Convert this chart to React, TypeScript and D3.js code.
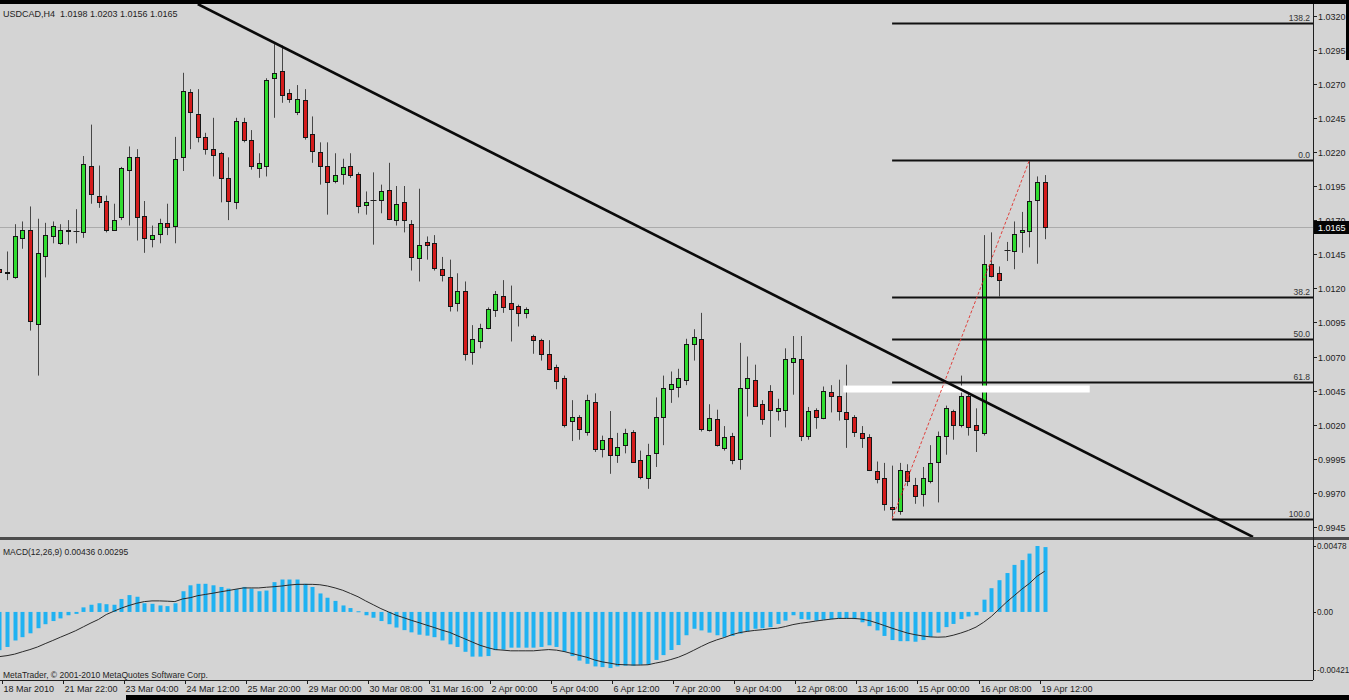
import { useEffect, useRef } from 'react'
import * as d3 from 'd3'

const symbol = 'USDCAD,H4'

// H4 candles, oldest first: [open, high, low, close]
const bars: [number, number, number, number][] = [
  [1.0134, 1.0139, 1.0111, 1.0132],
  [1.0132, 1.0147, 1.0126, 1.0131],
  [1.0128, 1.0167, 1.0127, 1.0158],
  [1.0157, 1.0169, 1.0149, 1.0163],
  [1.0163, 1.018, 1.0089, 1.0096],
  [1.0094, 1.0171, 1.0056, 1.0146],
  [1.0144, 1.0168, 1.0128, 1.0159],
  [1.0158, 1.0169, 1.0153, 1.0166],
  [1.0153, 1.0167, 1.0152, 1.0163],
  [1.0163, 1.017, 1.0152, 1.0162],
  [1.0162, 1.0178, 1.0153, 1.0162],
  [1.0161, 1.0217, 1.0157, 1.0211],
  [1.021, 1.024, 1.0182, 1.0189],
  [1.0188, 1.021, 1.0179, 1.0183],
  [1.0184, 1.0188, 1.0161, 1.0163],
  [1.0163, 1.0182, 1.0162, 1.017],
  [1.0172, 1.0209, 1.017, 1.0208],
  [1.0207, 1.0224, 1.0166, 1.0216],
  [1.0216, 1.0222, 1.0155, 1.0172],
  [1.0173, 1.0184, 1.0146, 1.0157],
  [1.0156, 1.0166, 1.015, 1.0159],
  [1.016, 1.0171, 1.0153, 1.0168],
  [1.0168, 1.0182, 1.0159, 1.0165],
  [1.0166, 1.0231, 1.0153, 1.0215],
  [1.0216, 1.0278, 1.0206, 1.0265],
  [1.0264, 1.0266, 1.0222, 1.0249],
  [1.0248, 1.0266, 1.0227, 1.0231],
  [1.0231, 1.0234, 1.0218, 1.0222],
  [1.0222, 1.0245, 1.0202, 1.0218],
  [1.0219, 1.022, 1.0183, 1.0201],
  [1.0201, 1.0216, 1.017, 1.0184],
  [1.0183, 1.0245, 1.0178, 1.0243],
  [1.0242, 1.0245, 1.0227, 1.0229],
  [1.0229, 1.0236, 1.0207, 1.021],
  [1.0208, 1.0219, 1.0201, 1.0212],
  [1.021, 1.0274, 1.0202, 1.0273],
  [1.0274, 1.0299, 1.0245, 1.0278],
  [1.0279, 1.0298, 1.0256, 1.0262],
  [1.0263, 1.0266, 1.0256, 1.0259],
  [1.0249, 1.0269, 1.0247, 1.0259],
  [1.0258, 1.0266, 1.0229, 1.0231],
  [1.0233, 1.0246, 1.0212, 1.0221],
  [1.022, 1.0227, 1.0196, 1.021],
  [1.021, 1.0227, 1.0174, 1.0198],
  [1.0199, 1.0219, 1.0197, 1.0203],
  [1.0204, 1.0215, 1.0196, 1.0209],
  [1.021, 1.0219, 1.0201, 1.0203],
  [1.0204, 1.0205, 1.0175, 1.018],
  [1.0181, 1.0191, 1.0174, 1.0183],
  [1.0185, 1.0205, 1.0152, 1.0185],
  [1.0185, 1.0196, 1.0175, 1.0191],
  [1.0192, 1.0212, 1.017, 1.0171],
  [1.017, 1.0195, 1.0166, 1.0182],
  [1.0183, 1.0195, 1.0161, 1.017],
  [1.0167, 1.017, 1.0133, 1.0143],
  [1.0142, 1.0193, 1.0125, 1.0152],
  [1.0154, 1.0158, 1.0141, 1.0152],
  [1.0153, 1.0159, 1.0133, 1.0135],
  [1.0134, 1.0143, 1.0125, 1.013],
  [1.0128, 1.0141, 1.0103, 1.0107],
  [1.0109, 1.0131, 1.0103, 1.0118],
  [1.0118, 1.0125, 1.0067, 1.0072],
  [1.0073, 1.0093, 1.0064, 1.0083],
  [1.0081, 1.0094, 1.0076, 1.0091],
  [1.0091, 1.0106, 1.009, 1.0105],
  [1.0104, 1.0118, 1.0099, 1.0116],
  [1.0114, 1.0126, 1.0102, 1.0106],
  [1.0109, 1.0122, 1.0081, 1.0105],
  [1.0107, 1.0108, 1.0092, 1.0102],
  [1.0102, 1.0106, 1.0098, 1.0105],
  [1.0085, 1.0086, 1.0072, 1.0082],
  [1.0082, 1.0083, 1.0067, 1.0072],
  [1.0072, 1.0082, 1.006, 1.0061],
  [1.0062, 1.0064, 1.0046, 1.0052],
  [1.0054, 1.0056, 1.0018, 1.002],
  [1.0023, 1.0038, 1.0008, 1.0026],
  [1.0026, 1.0027, 1.0009, 1.0017],
  [1.0015, 1.0042, 1.0012, 1.0038],
  [1.0037, 1.0043, 1.0, 1.0002],
  [1.0002, 1.0012, 0.9996, 1.0009],
  [1.001, 1.003, 0.9984, 0.9998],
  [0.9998, 1.0014, 0.9992, 1.0004],
  [1.0005, 1.0017, 0.9999, 1.0014],
  [1.0015, 1.0016, 0.9992, 0.9993],
  [0.9994, 1.0001, 0.998, 0.9982],
  [0.9981, 1.0006, 0.9973, 0.9998],
  [0.9999, 1.004, 0.9989, 1.0026],
  [1.0026, 1.0056, 1.0005, 1.0047],
  [1.0046, 1.0059, 1.0036, 1.005],
  [1.0048, 1.0061, 1.004, 1.0054],
  [1.0053, 1.0083, 1.0049, 1.0079],
  [1.0079, 1.009, 1.0067, 1.0084],
  [1.0083, 1.0102, 1.0015, 1.0017],
  [1.0016, 1.0035, 1.0015, 1.0025],
  [1.0024, 1.0031, 1.0004, 1.0005],
  [1.0003, 1.0019, 1.0001, 1.0011],
  [1.0012, 1.0014, 0.9991, 0.9994],
  [0.9995, 1.008, 0.9987, 1.0047],
  [1.0047, 1.007, 1.0026, 1.0054],
  [1.0053, 1.0064, 1.0033, 1.0034],
  [1.0035, 1.0038, 1.002, 1.0024],
  [1.0045, 1.0049, 1.0011, 1.0031],
  [1.003, 1.0039, 1.0023, 1.0032],
  [1.0031, 1.0076, 1.0018, 1.0068],
  [1.0066, 1.0085, 1.0042, 1.0069],
  [1.0068, 1.0085, 1.0008, 1.0012],
  [1.0012, 1.0033, 1.0009, 1.003],
  [1.0031, 1.0032, 1.0017, 1.0026],
  [1.0025, 1.0048, 1.0024, 1.0045],
  [1.0044, 1.0049, 1.0029, 1.0041],
  [1.0041, 1.0053, 1.0023, 1.003],
  [1.0029, 1.0064, 1.0003, 1.0024],
  [1.0026, 1.0027, 1.0011, 1.0015],
  [1.0014, 1.0019, 1.0003, 1.001],
  [1.0011, 1.0013, 0.9986, 0.9987],
  [0.9986, 0.9993, 0.9977, 0.998],
  [0.9981, 0.9992, 0.9957, 0.9962],
  [0.996, 0.999, 0.9951, 0.9958],
  [0.9957, 0.9992, 0.9954, 0.9987],
  [0.9986, 0.9991, 0.9975, 0.9979],
  [0.9976, 0.9981, 0.9962, 0.9968],
  [0.9969, 0.9989, 0.996, 0.9981],
  [0.9979, 1.0005, 0.9977, 0.9992],
  [0.9993, 1.0015, 0.9963, 1.0012],
  [1.0012, 1.0034, 0.9998, 1.0032],
  [1.003, 1.0031, 1.0009, 1.002],
  [1.002, 1.0056, 1.0018, 1.0041],
  [1.0041, 1.0046, 1.0012, 1.0018],
  [1.002, 1.0032, 1.0, 1.0016],
  [1.0014, 1.0159, 1.0012, 1.0138],
  [1.0138, 1.0161, 1.0128, 1.0129],
  [1.0131, 1.0136, 1.0114, 1.0126],
  [1.0148, 1.0154, 1.014, 1.0148],
  [1.0147, 1.0169, 1.0134, 1.016],
  [1.0161, 1.0176, 1.0146, 1.0163],
  [1.0162, 1.0214, 1.015, 1.0184],
  [1.0185, 1.0202, 1.0138, 1.0198],
  [1.0198, 1.0203, 1.0156, 1.0165],
]

// MACD(12,26,9): main histogram and signal line, one value per bar
const macdMain = [
  -0.00277, -0.00254, -0.00207, -0.00183, -0.00155, -0.00118, -0.00089, -0.00066, -0.00047, -0.00024,
  -0.00014, 0.00033, 0.00052, 0.00063, 0.00056, 0.00052, 0.00094, 0.00122, 0.0011, 0.00063,
  0.00059, 0.00047, 0.00042, 0.00063, 0.0015, 0.00193, 0.00204, 0.00204, 0.00193, 0.00181,
  0.00169, 0.00165, 0.00181, 0.00169, 0.0015, 0.00155, 0.00216, 0.00235, 0.00235, 0.00235,
  0.00204, 0.00181, 0.00134, 0.00103, 0.0008, 0.00047, 0.00028, 0.00005, -0.00024, -0.00042,
  -0.00066, -0.00089, -0.00113, -0.00132, -0.00148, -0.00165, -0.00172, -0.00183, -0.00207, -0.00235,
  -0.00254, -0.00289, -0.00324, -0.00324, -0.0032, -0.00277, -0.00273, -0.00259, -0.00259, -0.00259,
  -0.00259, -0.00254, -0.00242, -0.00254, -0.00289, -0.0032, -0.00353, -0.00376, -0.00395, -0.004,
  -0.00407, -0.00395, -0.0039, -0.0039, -0.00383, -0.00383, -0.00348, -0.00313, -0.00276, -0.0024,
  -0.00169, -0.00122, -0.00134, -0.0015, -0.00169, -0.00181, -0.00174, -0.00157, -0.00141, -0.00122,
  -0.00118, -0.0011, -0.00087, -0.00063, -0.00024, -0.00052, -0.00056, -0.00063, -0.00056, -0.00052,
  -0.00047, -0.00047, -0.00052, -0.00075, -0.00103, -0.00134, -0.00174, -0.00204, -0.00212, -0.00212,
  -0.00216, -0.00204, -0.00181, -0.0015, -0.0011, -0.00087, -0.00052, -0.00033, -0.00024, 0.00089,
  0.00172, 0.0023, 0.00282, 0.00341, 0.00376, 0.00423, 0.00478, 0.0047,
]

const macdSignal = [
  -0.00324, -0.00317, -0.00306, -0.00289, -0.00273, -0.00254, -0.0023, -0.00207, -0.00183, -0.0016,
  -0.00136, -0.00108, -0.0008, -0.00054, -0.00019, 0.00005, 0.00028, 0.00047, 0.00063, 0.00075,
  0.0008, 0.0008, 0.00078, 0.00075, 0.00094, 0.00103, 0.00118, 0.00127, 0.00136, 0.00146,
  0.00155, 0.00165, 0.00174, 0.00174, 0.00174, 0.00179, 0.00183, 0.00188, 0.00195, 0.002,
  0.002, 0.002, 0.00197, 0.00188, 0.00174, 0.00157, 0.00134, 0.0011, 0.0008, 0.00052,
  0.00024, 0, -0.00024, -0.00042, -0.00061, -0.00078, -0.00096, -0.00113, -0.00132, -0.00148,
  -0.00172, -0.00195, -0.00219, -0.00242, -0.00259, -0.00273, -0.00277, -0.00282, -0.00282, -0.00282,
  -0.00282, -0.00277, -0.00273, -0.00277, -0.00287, -0.00301, -0.00315, -0.00329, -0.00348, -0.00362,
  -0.00371, -0.00381, -0.00383, -0.00385, -0.00385, -0.00383, -0.00371, -0.0036, -0.00345, -0.00328,
  -0.00305, -0.00278, -0.0025, -0.00224, -0.00203, -0.00186, -0.00165, -0.0015, -0.00141, -0.00134,
  -0.00129, -0.00122, -0.00118, -0.00106, -0.00092, -0.00082, -0.00075, -0.00066, -0.00059, -0.00052,
  -0.00047, -0.00047, -0.00047, -0.00052, -0.00063, -0.0008, -0.00099, -0.00118, -0.00136, -0.00153,
  -0.00165, -0.00174, -0.00181, -0.00183, -0.00181, -0.00169, -0.00153, -0.00134, -0.0011, -0.00075,
  -0.00033, 0.00019, 0.00071, 0.00118, 0.00165, 0.00207, 0.00259, 0.00295,
]
const macdTitle = 'MACD(12,26,9) 0.00436 0.00295'

// one time label every 8 bars
const timeLabels = [
  '18 Mar 2010', '21 Mar 22:00', '23 Mar 04:00', '24 Mar 12:00', '25 Mar 20:00', '29 Mar 00:00',
  '30 Mar 08:00', '31 Mar 16:00', '2 Apr 00:00', '5 Apr 04:00', '6 Apr 12:00', '7 Apr 20:00',
  '9 Apr 04:00', '12 Apr 08:00', '13 Apr 16:00', '15 Apr 00:00', '16 Apr 08:00', '19 Apr 12:00',
]
const barsPerLabel = 8

const priceTicks = [
  1.032, 1.0295, 1.027, 1.0245, 1.022, 1.0195, 1.017, 1.0145, 1.012, 1.0095, 1.007, 1.0045, 1.002,
  0.9995, 0.997, 0.9945,
]
const macdTicks = [
  { value: 0.00478, label: '0.00478' },
  { value: 0, label: '0.00' },
  { value: -0.00421, label: '-0.00421' },
]

// objects drawn on the chart
const trendLine = [
  { bar: 26, price: 1.03284 },
  { bar: 164.3, price: 0.99377 },
]
const fibLowBar = 117
const fibHighBar = 135
const fibLevels = [
  { ratio: -0.382, label: '138.2' },
  { ratio: 0, label: '0.0' },
  { ratio: 0.382, label: '38.2' },
  { ratio: 0.5, label: '50.0' },
  { ratio: 0.618, label: '61.8' },
  { ratio: 1, label: '100.0' },
]
const zone = { fromBar: 110.6, toBar: 142.9, top: 1.00487, bottom: 1.00436 }

export default function App() {
  const svgRef = useRef<SVGSVGElement>(null)

  useEffect(() => {
    if (!svgRef.current) return
    const svg = d3.select(svgRef.current)
    svg.selectAll('*').remove()

    const width = 1349
    const height = 700
    const axisX = 1313
    const mainTop = 4
    const mainBottom = 537
    const subTop = 541
    const subBottom = 680
    const font = '"Liberation Sans", Arial, sans-serif'
    const ink = '#1e1e1e'

    svg.attr('width', width).attr('height', height)
    svg.append('rect').attr('width', width).attr('height', height).attr('fill', '#d4d4d4')

    // Scales
    const x = d3.scaleLinear().domain([0, bars.length - 1]).range([-0.6, 1044.7])
    const y = d3.scaleLinear().domain([0.9945, 1.032]).range([527, 15.5])
    const ym = d3.scaleLinear().domain([-0.00421, 0.00478]).range([670, 546])
    const px = (i: number) => Math.round(x(i)) + 0.5

    const defs = svg.append('defs')
    defs.append('clipPath').attr('id', 'clip-main').append('rect')
      .attr('x', 0).attr('y', mainTop).attr('width', axisX).attr('height', mainBottom - mainTop)
    defs.append('clipPath').attr('id', 'clip-sub').append('rect')
      .attr('x', 0).attr('y', subTop).attr('width', axisX).attr('height', subBottom - subTop)

    const main = svg.append('g').attr('clip-path', 'url(#clip-main)')
    const last = bars[bars.length - 1]

    // bid line
    main.append('line')
      .attr('x1', 0).attr('x2', axisX)
      .attr('y1', Math.round(y(last[3])) + 0.5).attr('y2', Math.round(y(last[3])) + 0.5)
      .attr('stroke', '#ababab')

    // Candles
    const candle = main.selectAll('g.candle').data(bars).join('g').attr('class', 'candle')
    candle.append('line')
      .attr('x1', (_, i) => px(i)).attr('x2', (_, i) => px(i))
      .attr('y1', (d) => y(d[1])).attr('y2', (d) => y(d[2]))
      .attr('stroke', '#474747')
    candle.each(function (d, i) {
      const g = d3.select(this)
      const [o, , , c] = d
      if (Math.abs(o - c) < 0.00005) {
        g.append('line')
          .attr('x1', px(i) - 3).attr('x2', px(i) + 3)
          .attr('y1', Math.round(y(o)) + 0.5).attr('y2', Math.round(y(o)) + 0.5)
          .attr('stroke', '#222')
        return
      }
      const top = Math.round(y(Math.max(o, c)))
      const bottom = Math.round(y(Math.min(o, c)))
      g.append('rect')
        .attr('x', px(i) - 2).attr('y', top + 0.5)
        .attr('width', 4).attr('height', Math.max(bottom - top, 1))
        .attr('fill', c > o ? '#30dc30' : '#d41c1c')
        .attr('stroke', '#161616')
    })

    // White zone
    main.append('rect')
      .attr('x', x(zone.fromBar)).attr('y', y(zone.top))
      .attr('width', x(zone.toBar) - x(zone.fromBar)).attr('height', y(zone.bottom) - y(zone.top))
      .attr('fill', '#ffffff')

    // Fibonacci retracement
    const fibLow = bars[fibLowBar][2]
    const fibHigh = bars[fibHighBar][1]
    const fibX = x(fibLowBar)
    fibLevels.forEach((lv) => {
      const yy = Math.round(y(fibHigh - lv.ratio * (fibHigh - fibLow))) + 0.5
      main.append('line')
        .attr('x1', fibX).attr('x2', axisX).attr('y1', yy).attr('y2', yy)
        .attr('stroke', '#111').attr('stroke-width', 2)
      svg.append('text')
        .attr('x', axisX - 3).attr('y', yy - 3)
        .attr('text-anchor', 'end').attr('font-family', font).attr('font-size', 8.5)
        .attr('fill', '#333').text(lv.label)
    })
    main.append('line')
      .attr('x1', x(fibLowBar)).attr('y1', y(fibLow))
      .attr('x2', x(fibHighBar)).attr('y2', y(fibHigh))
      .attr('stroke', '#e0403c').attr('stroke-dasharray', '3,2').attr('stroke-width', 1)

    // Trend line
    main.append('line')
      .attr('x1', x(trendLine[0].bar)).attr('y1', y(trendLine[0].price))
      .attr('x2', x(trendLine[1].bar)).attr('y2', y(trendLine[1].price))
      .attr('stroke', '#0a0a0a').attr('stroke-width', 2.6)

    // Header
    svg.append('text')
      .attr('x', 3).attr('y', 17)
      .attr('font-family', font).attr('font-size', 9).attr('fill', ink)
      .style('white-space', 'pre')
      .text(`${symbol}  ${last.map((v) => v.toFixed(4)).join(' ')}`)

    // Panel separator
    svg.append('rect').attr('x', 0).attr('y', mainBottom).attr('width', width).attr('height', 3).attr('fill', '#4c4c4c')

    // MACD subwindow
    const sub = svg.append('g').attr('clip-path', 'url(#clip-sub)')
    sub.selectAll('rect.hist').data(macdMain).join('rect').attr('class', 'hist')
      .attr('x', (_, i) => Math.round(x(i)) - 1.5)
      .attr('y', (d) => Math.min(ym(d), ym(0)))
      .attr('width', 4)
      .attr('height', (d) => Math.max(Math.abs(ym(d) - ym(0)), 1))
      .attr('fill', '#1fb2f2')
    const signalLine = d3.line<number>().x((_, i) => x(i)).y((d) => ym(d))
    sub.append('path').datum(macdSignal)
      .attr('d', signalLine).attr('fill', 'none').attr('stroke', '#2a2a2a').attr('stroke-width', 1)

    svg.append('text')
      .attr('x', 3).attr('y', 555)
      .attr('font-family', font).attr('font-size', 8.5).attr('fill', ink)
      .text(macdTitle)
    svg.append('text')
      .attr('x', 3).attr('y', 678)
      .attr('font-family', font).attr('font-size', 8.5).attr('fill', ink)
      .text('MetaTrader, © 2001-2010 MetaQuotes Software Corp.')

    // Right price axis
    svg.append('line')
      .attr('x1', axisX + 0.5).attr('x2', axisX + 0.5).attr('y1', mainTop).attr('y2', subBottom)
      .attr('stroke', ink)
    priceTicks.forEach((p) => {
      const yy = Math.round(y(p)) + 0.5
      svg.append('line').attr('x1', axisX).attr('x2', axisX + 4).attr('y1', yy).attr('y2', yy).attr('stroke', ink)
      svg.append('text')
        .attr('x', axisX + 5).attr('y', yy).attr('dy', '0.35em')
        .attr('font-family', font).attr('font-size', 9).attr('fill', ink)
        .text(p.toFixed(4))
    })
    const bidY = Math.round(y(last[3]))
    svg.append('rect').attr('x', axisX + 1).attr('y', bidY - 6).attr('width', width - axisX).attr('height', 13).attr('fill', '#050505')
    svg.append('text')
      .attr('x', axisX + 5).attr('y', bidY + 0.5).attr('dy', '0.35em')
      .attr('font-family', font).attr('font-size', 9).attr('fill', '#ffffff')
      .text(last[3].toFixed(4))

    macdTicks.forEach((t) => {
      const yy = Math.round(ym(t.value)) + 0.5
      svg.append('line').attr('x1', axisX).attr('x2', axisX + 3).attr('y1', yy).attr('y2', yy).attr('stroke', ink)
      svg.append('text')
        .attr('x', axisX + 4).attr('y', yy).attr('dy', '0.35em')
        .attr('font-family', font).attr('font-size', 8.2).attr('fill', ink)
        .text(t.label)
    })

    // Time axis
    svg.append('line')
      .attr('x1', 0).attr('x2', axisX).attr('y1', subBottom + 0.5).attr('y2', subBottom + 0.5)
      .attr('stroke', ink)
    timeLabels.forEach((label, k) => {
      const tx = Math.round(x(k * barsPerLabel) + 2.5) + 0.5
      svg.append('line').attr('x1', tx).attr('x2', tx).attr('y1', subBottom).attr('y2', subBottom + 4).attr('stroke', ink)
      svg.append('text')
        .attr('x', tx + 1).attr('y', 692)
        .attr('font-family', font).attr('font-size', 9).attr('fill', ink)
        .text(label)
    })

    // Window frame edges
    svg.append('rect').attr('x', 0).attr('y', 0).attr('width', width).attr('height', 4).attr('fill', '#000')
    svg.append('rect').attr('x', 126).attr('y', 695).attr('width', width - 126).attr('height', 5).attr('fill', '#000')
    svg.append('rect').attr('x', width - 3).attr('y', 0).attr('width', 3).attr('height', 60).attr('fill', '#000')
  }, [])

  return (
    <div style={{ position: 'absolute', left: 0, top: 0 }}>
      <svg ref={svgRef}></svg>
    </div>
  )
}
